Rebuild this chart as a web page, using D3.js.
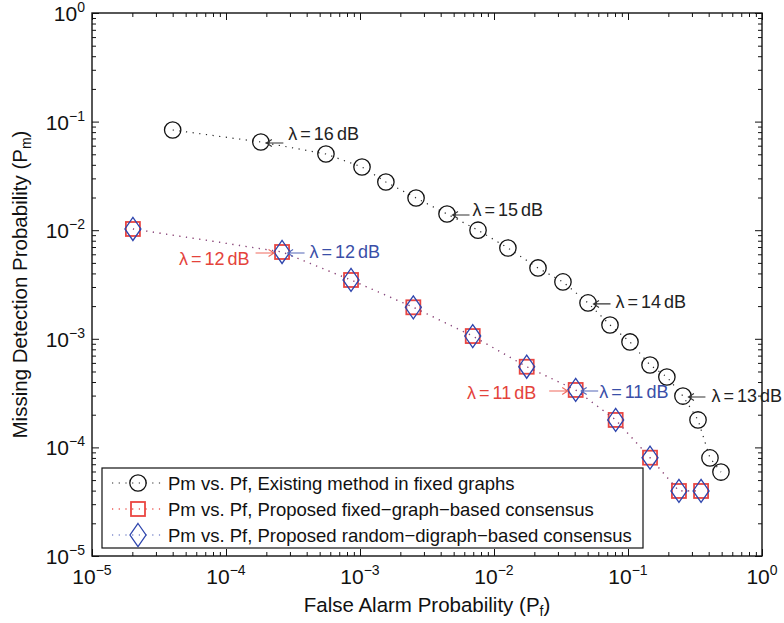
<!DOCTYPE html>
<html><head><meta charset="utf-8">
<script src="https://cdn.jsdelivr.net/npm/d3@7"></script>
<style>
body{margin:0;background:#fff}
svg{display:block}
text{font-family:"Liberation Sans",Arial,Helvetica,sans-serif}
</style>
</head><body>
<svg id="c" width="784" height="623"></svg>
<script>
// ---------- data ----------
const xTickValues = [1e-5, 1e-4, 1e-3, 1e-2, 1e-1, 1];
const xTickExps = ["−5", "−4", "−3", "−2", "−1", "0"];
const yTickValues = [1e-5, 1e-4, 1e-3, 1e-2, 1e-1, 1];
const yTickExps = ["−5", "−4", "−3", "−2", "−1", "0"];

const pfExisting = [4.0e-5, 1.82e-4, 5.57e-4, 1.035e-3, 1.56e-3, 2.62e-3, 4.46e-3, 7.6e-3, 0.0127, 0.0213,
                    0.0327, 0.0503, 0.0734, 0.1035, 0.146, 0.195, 0.257, 0.333, 0.409, 0.494];
const pmExisting = [0.0837, 0.0649, 0.0503, 0.0382, 0.0278, 0.0198, 0.0141, 0.0100, 0.00686, 0.00449,
                    0.00334, 0.00214, 0.00134, 9.35e-4, 5.74e-4, 4.45e-4, 2.97e-4, 1.79e-4, 8.0e-5, 5.93e-5];
const pfFixed = [2.02e-5, 2.62e-4, 8.57e-4, 2.5e-3, 6.94e-3, 0.01754, 0.0407, 0.0809, 0.146, 0.240, 0.351];
const pmFixed = [0.01026, 0.0063, 0.00348, 0.00195, 1.06e-3, 5.53e-4, 3.38e-4, 1.79e-4, 8.04e-5, 3.97e-5, 3.97e-5];
const pfRandom = [2.02e-5, 2.62e-4, 8.57e-4, 2.5e-3, 6.94e-3, 0.01754, 0.0407, 0.0809, 0.146, 0.240, 0.351];
const pmRandom = [0.01026, 0.0063, 0.00348, 0.00195, 1.06e-3, 5.53e-4, 3.38e-4, 1.79e-4, 8.04e-5, 3.97e-5, 3.97e-5];

const seriesNames = [
  "Pm vs. Pf, Existing method in fixed graphs",
  "Pm vs. Pf, Proposed fixed−graph−based consensus",
  "Pm vs. Pf, Proposed random−digraph−based consensus"
];
const xTitle = "False Alarm Probability (P";
const xTitleSub = "f";
const yTitle = "Missing Detection Probability (P";
const yTitleSub = "m";

// annotation labels: series index, point index, lambda value (dB)
const annSeries = [0, 0, 0, 0, 2, 1, 2, 1];
const annPoint  = [1, 6, 11, 16, 1, 1, 6, 6];
const annLambda = ["16", "15", "14", "13", "12", "12", "11", "11"];

// ---------- layout ----------
const W = 784, H = 623;
const L = 92, R = 762, T = 13, B = 556;
const svg = d3.select("#c");
const x = d3.scaleLog().domain([1e-5, 1]).range([L, R]);
const y = d3.scaleLog().domain([1e-5, 1]).range([B, T]);

const colBlack = "#111", colRed = "#e8322c", colBlue = "#2e45ad";
const seriesX = [pfExisting, pfFixed, pfRandom];
const seriesY = [pmExisting, pmFixed, pmRandom];
const seriesCol = [colBlack, colRed, colBlue];

svg.append("rect").attr("width", W).attr("height", H).attr("fill", "#fff");

// minor ticks
const minors = [];
for (let e = -5; e < 0; e++) for (let m = 2; m <= 9; m++) minors.push(m * Math.pow(10, e));

function tickAxis(axisFn, scale, vals, size, transform) {
  const g = svg.append("g").attr("transform", transform)
    .call(axisFn(scale).tickValues(vals).tickSize(size).tickFormat(""));
  g.select(".domain").remove();
  g.selectAll("line").attr("stroke", "#111").attr("stroke-width", 1);
  return g;
}
tickAxis(d3.axisBottom, x, xTickValues, -7, `translate(0,${B})`);
tickAxis(d3.axisBottom, x, minors, -4, `translate(0,${B})`);
tickAxis(d3.axisTop, x, xTickValues, -7, `translate(0,${T})`);
tickAxis(d3.axisTop, x, minors, -4, `translate(0,${T})`);
tickAxis(d3.axisLeft, y, yTickValues, -7, `translate(${L},0)`);
tickAxis(d3.axisLeft, y, minors, -4, `translate(${L},0)`);
tickAxis(d3.axisRight, y, yTickValues, -7, `translate(${R},0)`);
tickAxis(d3.axisRight, y, minors, -4, `translate(${R},0)`);

// frame
svg.append("rect").attr("x", L).attr("y", T).attr("width", R - L).attr("height", B - T)
  .attr("fill", "none").attr("stroke", "#111").attr("stroke-width", 1.4);

// tick labels
const tickFs = 21, supFs = 14;
xTickValues.forEach((v, i) => {
  const t = svg.append("text").attr("x", x(v)).attr("y", 584).attr("text-anchor", "middle")
    .attr("font-size", tickFs).attr("fill", "#111");
  t.append("tspan").text("10");
  t.append("tspan").attr("font-size", supFs).attr("dy", -9).text(xTickExps[i]);
});
yTickValues.forEach((v, i) => {
  const t = svg.append("text").attr("x", 85).attr("y", y(v) + 8).attr("text-anchor", "end")
    .attr("font-size", tickFs).attr("fill", "#111");
  t.append("tspan").text("10");
  t.append("tspan").attr("font-size", supFs).attr("dy", -9).text(yTickExps[i]);
});

// axis titles
const xt = svg.append("text").attr("x", (L + R) / 2).attr("y", 612).attr("text-anchor", "middle")
  .attr("font-size", 20.5).attr("fill", "#111");
xt.append("tspan").text(xTitle);
xt.append("tspan").attr("font-size", 14).attr("dy", 4).text(xTitleSub);
xt.append("tspan").attr("dy", -4).text(")");
const yt = svg.append("text").attr("transform", `translate(27,${(T + B) / 2}) rotate(-90)`)
  .attr("text-anchor", "middle").attr("font-size", 20.5).attr("fill", "#111");
yt.append("tspan").text(yTitle);
yt.append("tspan").attr("font-size", 14).attr("dy", 4).text(yTitleSub);
yt.append("tspan").attr("dy", -4).text(")");

// markers
function drawMarker(g, k, cx, cy) {
  if (k === 0) {
    g.append("circle").attr("cx", cx).attr("cy", cy).attr("r", 8.2)
      .attr("fill", "none").attr("stroke", colBlack).attr("stroke-width", 1.3);
  } else if (k === 1) {
    g.append("rect").attr("x", cx - 7).attr("y", cy - 7).attr("width", 14).attr("height", 14)
      .attr("fill", "none").attr("stroke", colRed).attr("stroke-width", 1.8).attr("stroke-opacity", 0.9);
  } else {
    g.append("path").attr("d", `M${cx},${cy - 11.5}L${cx + 8},${cy}L${cx},${cy + 11.5}L${cx - 8},${cy}Z`)
      .attr("fill", "none").attr("stroke", colBlue).attr("stroke-width", 1.3);
  }
}
const lineStyle = [
  {w: 1.2, dash: "1.2,5.5", op: 0.9},
  {w: 1.3, dash: "1.2,5.5", op: 0.8},
  {w: 1.3, dash: "1.2,5.5", op: 0.6}
];

const plot = svg.append("g");
for (let k = 0; k < 3; k++) {
  const pts = seriesX[k].map((v, i) => [v, seriesY[k][i]]);
  const line = d3.line().x(d => x(d[0])).y(d => y(d[1]));
  plot.append("path").attr("d", line(pts)).attr("fill", "none")
    .attr("stroke", seriesCol[k]).attr("stroke-width", lineStyle[k].w)
    .attr("stroke-dasharray", lineStyle[k].dash).attr("stroke-opacity", lineStyle[k].op);
  const mg = plot.append("g");
  pts.forEach(p => drawMarker(mg, k, x(p[0]), y(p[1])));
}

// annotations
const annDir = ["L", "L", "L", "L", "L", "R", "L", "R"];
const annTextDy = [-2, 2, 5, 5.5, 6, 13, 8.5, 9];
const annTextGap = [22, 20, 22, 23, 22, 6, 18, 13];
const annTextCol = ["#222", "#222", "#222", "#222", "#3a4fa8", "#e4433b", "#3a4fa8", "#e4433b"];
const annArrowCol = ["#333", "#333", "#333", "#333", "#5567b8", "#f06a5e", "#5567b8", "#f06a5e"];
function arrow(x0, x1, yy, col) {
  const s = x1 > x0 ? -1 : 1;
  svg.append("path")
    .attr("d", `M${x0},${yy}L${x1},${yy}M${x1 + s * 5.5},${yy - 3.5}L${x1},${yy}L${x1 + s * 5.5},${yy + 3.5}`)
    .attr("fill", "none").attr("stroke", col).attr("stroke-width", 1.1);
}
function lambdaText(xx, yy, anchor, col, val) {
  const t = svg.append("text").attr("x", xx).attr("y", yy).attr("text-anchor", anchor)
    .attr("font-size", 18).attr("fill", col);
  t.append("tspan").text("λ");
  t.append("tspan").attr("dx", 3).text("=");
  t.append("tspan").attr("dx", 3).text(val);
  t.append("tspan").attr("dx", 3).text("dB");
}
annSeries.forEach((s, i) => {
  const px = x(seriesX[s][annPoint[i]]), py = y(seriesY[s][annPoint[i]]);
  const ay = py + 1;
  if (annDir[i] === "L") {
    const tip = px + 5.5, tail = tip + 17;
    arrow(tail, tip, ay, annArrowCol[i]);
    lambdaText(tip + annTextGap[i], py + annTextDy[i], "start", annTextCol[i], annLambda[i]);
  } else {
    const tip = px - 8, tail = tip - 18.5;
    arrow(tail, tip, ay, annArrowCol[i]);
    lambdaText(tail - annTextGap[i], py + annTextDy[i], "end", annTextCol[i], annLambda[i]);
  }
});

// legend
const lg = svg.append("g");
lg.append("rect").attr("x", 102).attr("y", 468).attr("width", 541).attr("height", 80)
  .attr("fill", "#fff").attr("stroke", "#111").attr("stroke-width", 1.2);
const rowY = [483, 509, 535];
seriesNames.forEach((name, k) => {
  lg.append("line").attr("x1", 112).attr("x2", 164).attr("y1", rowY[k]).attr("y2", rowY[k])
    .attr("stroke", seriesCol[k]).attr("stroke-width", lineStyle[k].w)
    .attr("stroke-dasharray", lineStyle[k].dash).attr("stroke-opacity", lineStyle[k].op);
  drawMarker(lg, k, 138, rowY[k]);
  lg.append("text").attr("x", 168).attr("y", rowY[k] + 6.5).attr("font-size", 18.5)
    .attr("fill", "#111").text(name);
});
</script>
</body></html>
